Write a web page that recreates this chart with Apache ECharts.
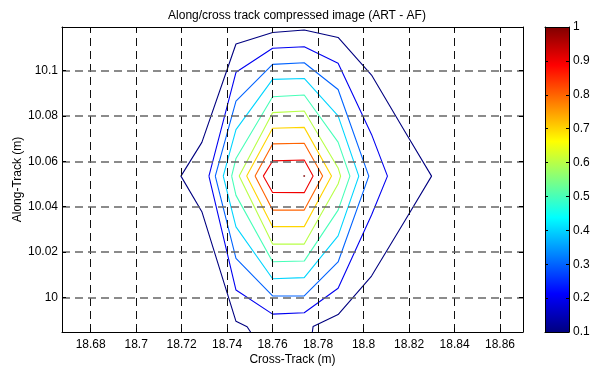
<!DOCTYPE html>
<html><head><meta charset="utf-8">
<script src="https://cdn.jsdelivr.net/npm/echarts@6/dist/echarts.min.js"></script>
<style>html,body{margin:0;padding:0;background:#fff}#c{width:591px;height:369px}</style>
</head><body><div id="c"></div>
<script>
// ---- data ----
const titleText = 'Along/cross track compressed image (ART - AF)';
const xName = 'Cross-Track (m)';
const yName = 'Along-Track (m)';
const xTicks = [18.68, 18.70, 18.72, 18.74, 18.76, 18.78, 18.80, 18.82, 18.84, 18.86];
const yTicks = [10.00, 10.02, 10.04, 10.06, 10.08, 10.10];
const xRange = [18.6674, 18.8701];
const yRange = [9.9847, 10.1193];
const cbRange = [0.1, 1.0];
const cbTicks = [0.1, 0.2, 0.3, 0.4, 0.5, 0.6, 0.7, 0.8, 0.9, 1.0];
const levels = [0.1, 0.2, 0.3, 0.4, 0.5, 0.6, 0.7, 0.8, 0.9];
const peakPoint = [18.7739, 10.0535]; // level 1.0 (single point)

const contour01 = [[18.7526,9.9812],[18.7488,9.9870],[18.7439,9.9894],[18.7289,10.0378],[18.7197,10.0535],[18.7289,10.0684],[18.7439,10.1118],[18.7600,10.1169],[18.7739,10.1180],[18.7888,10.1147],[18.8035,10.0981],[18.8181,10.0733],[18.8299,10.0535],[18.8181,10.0337],[18.8035,10.0094],[18.7888,9.9924],[18.7778,9.9871],[18.7770,9.9812]];
const contour02 = [[18.7320,10.0535],[18.7439,10.0993],[18.7600,10.1099],[18.7739,10.1106],[18.7888,10.1033],[18.8035,10.0719],[18.8105,10.0535],[18.8035,10.0363],[18.7888,10.0040],[18.7739,9.9932],[18.7600,9.9926],[18.7439,10.0032],[18.7320,10.0535]];
const contour03 = [[18.7348,10.0535],[18.7439,10.0866],[18.7600,10.1028],[18.7739,10.1035],[18.7888,10.0917],[18.8023,10.0535],[18.7888,10.0156],[18.7739,10.0006],[18.7600,10.0006],[18.7439,10.0172],[18.7348,10.0535]];
const contour04 = [[18.7383,10.0535],[18.7439,10.0740],[18.7600,10.0962],[18.7739,10.0966],[18.7888,10.0801],[18.7979,10.0535],[18.7888,10.0271],[18.7739,10.0087],[18.7600,10.0082],[18.7439,10.0311],[18.7383,10.0535]];
const contour05 = [[18.7420,10.0535],[18.7439,10.0613],[18.7600,10.0885],[18.7739,10.0893],[18.7888,10.0685],[18.7940,10.0535],[18.7888,10.0385],[18.7739,10.0160],[18.7600,10.0157],[18.7439,10.0450],[18.7420,10.0535]];
const contour06 = [[18.7453,10.0535],[18.7600,10.0815],[18.7739,10.0822],[18.7888,10.0571],[18.7899,10.0535],[18.7888,10.0500],[18.7739,10.0235],[18.7600,10.0235],[18.7453,10.0535]];
const contour07 = [[18.7486,10.0535],[18.7600,10.0746],[18.7739,10.0750],[18.7859,10.0535],[18.7739,10.0312],[18.7600,10.0312],[18.7486,10.0535]];
const contour08 = [[18.7523,10.0535],[18.7600,10.0677],[18.7739,10.0680],[18.7820,10.0535],[18.7739,10.0385],[18.7600,10.0385],[18.7523,10.0535]];
const contour09 = [[18.7559,10.0535],[18.7600,10.0602],[18.7739,10.0606],[18.7778,10.0535],[18.7739,10.0462],[18.7600,10.0463],[18.7559,10.0535]];
const contours = [contour01, contour02, contour03, contour04, contour05, contour06, contour07, contour08, contour09];

// ---- jet colormap ----
function clamp(v){ return Math.max(0, Math.min(1, v)); }
function jet(t){
  const r = clamp(1.5 - Math.abs(4*t - 3));
  const g = clamp(1.5 - Math.abs(4*t - 2));
  const b = clamp(1.5 - Math.abs(4*t - 1));
  return 'rgb(' + Math.round(r*255) + ',' + Math.round(g*255) + ',' + Math.round(b*255) + ')';
}
function levelColor(v){ return jet((v - cbRange[0]) / (cbRange[1] - cbRange[0])); }
const jetStops = [];
for (let k = 0; k <= 8; k++) jetStops.push({offset: k/8, color: jet(k/8)});

const FONT = 'Liberation Sans';
const fmt2 = v => String(+(+v).toFixed(2));
const fmt1 = v => String(+(+v).toFixed(1));

const series = [];
// dashed grid (vertical)
series.push({
  type: 'line', xAxisIndex: 0, yAxisIndex: 0, data: [], z: 1, silent: true,
  markLine: {
    silent: true, symbol: ['none', 'none'], animation: false,
    label: {show: false},
    lineStyle: {color: '#111', width: 1, type: [8, 5]},
    emphasis: {disabled: true},
    data: xTicks.map(v => ({xAxis: v}))
  }
});
// dashed grid (horizontal)
series.push({
  type: 'line', xAxisIndex: 0, yAxisIndex: 0, data: [], z: 1, silent: true,
  markLine: {
    silent: true, symbol: ['none', 'none'], animation: false,
    label: {show: false},
    lineStyle: {color: '#666', width: 1.6, type: [8, 5]},
    emphasis: {disabled: true},
    data: yTicks.map(v => ({yAxis: v}))
  }
});
contours.forEach((c, i) => {
  series.push({
    type: 'line', xAxisIndex: 0, yAxisIndex: 0, data: c, showSymbol: false, symbol: 'none',
    clip: true, z: 3, silent: true, animation: false,
    lineStyle: {color: levelColor(levels[i]), width: 1.1}
  });
});
series.push({
  type: 'scatter', xAxisIndex: 0, yAxisIndex: 0, data: [peakPoint], symbolSize: 2, z: 4, silent: true,
  itemStyle: {color: levelColor(1.0)}
});
// colorbar
series.push({
  type: 'custom', xAxisIndex: 2, yAxisIndex: 2, data: [[0, cbRange[1]]], z: 1, silent: true,
  renderItem: function(params, api){
    const top = api.coord([0, cbRange[1]]);
    const bot = api.coord([0, cbRange[0]]);
    const w = api.size([1, 0])[0];
    return {type: 'rect', shape: {x: top[0] - w/2, y: top[1], width: w, height: bot[1] - top[1]},
      style: {fill: new echarts.graphic.LinearGradient(0, 1, 0, 0, jetStops)}};
  }
});

const axLine = {show: true, onZero: false, lineStyle: {color: '#000', width: 1}};
const labelStyle = {color: '#000', fontSize: 12, fontFamily: FONT};

const option = {
  animation: false,
  backgroundColor: '#fff',
  title: {text: titleText, left: 292, top: 5, textAlign: 'center',
    textStyle: {fontSize: 12, fontWeight: 'normal', color: '#000', fontFamily: FONT}},
  grid: [
    {left: 62, top: 27, width: 461, height: 305, outerBoundsMode: 'none', containLabel: false},
    {left: 545, top: 27, width: 24, height: 305, outerBoundsMode: 'none', containLabel: false}
  ],
  xAxis: [
    {type: 'value', gridIndex: 0, position: 'bottom', min: xRange[0], max: xRange[1], z: 5,
      name: xName, nameLocation: 'middle', nameGap: 22, nameMoveOverlap: false,
      nameTextStyle: labelStyle,
      axisLine: axLine, splitLine: {show: false},
      axisTick: {show: true, inside: true, length: 4, customValues: xTicks, lineStyle: {color: '#000'}},
      axisLabel: {show: true, margin: 7, customValues: xTicks, formatter: fmt2, ...labelStyle}},
    {type: 'value', gridIndex: 0, position: 'top', min: xRange[0], max: xRange[1], z: 5,
      axisLine: axLine, splitLine: {show: false},
      axisTick: {show: true, inside: true, length: 4, customValues: xTicks, lineStyle: {color: '#000'}},
      axisLabel: {show: false}},
    {type: 'category', gridIndex: 1, position: 'bottom', data: [''], z: 5,
      axisLine: axLine, axisTick: {show: false}, axisLabel: {show: false}, splitLine: {show: false}},
    {type: 'category', gridIndex: 1, position: 'top', data: [''], z: 5,
      axisLine: axLine, axisTick: {show: false}, axisLabel: {show: false}, splitLine: {show: false}}
  ],
  yAxis: [
    {type: 'value', gridIndex: 0, position: 'left', min: yRange[0], max: yRange[1], z: 5,
      name: yName, nameLocation: 'middle', nameGap: 38, nameMoveOverlap: false,
      nameTextStyle: labelStyle,
      axisLine: axLine, splitLine: {show: false},
      axisTick: {show: true, inside: true, length: 4, customValues: yTicks, lineStyle: {color: '#000'}},
      axisLabel: {show: true, margin: 4, customValues: yTicks, formatter: fmt2, ...labelStyle}},
    {type: 'value', gridIndex: 0, position: 'right', min: yRange[0], max: yRange[1], z: 5,
      axisLine: axLine, splitLine: {show: false},
      axisTick: {show: true, inside: true, length: 4, customValues: yTicks, lineStyle: {color: '#000'}},
      axisLabel: {show: false}},
    {type: 'value', gridIndex: 1, position: 'right', min: cbRange[0], max: cbRange[1], z: 5,
      axisLine: axLine, splitLine: {show: false},
      axisTick: {show: true, inside: true, length: 3, customValues: cbTicks, lineStyle: {color: '#000'}},
      axisLabel: {show: true, margin: 4, customValues: cbTicks, formatter: fmt1, ...labelStyle}},
    {type: 'value', gridIndex: 1, position: 'left', min: cbRange[0], max: cbRange[1], z: 5,
      axisLine: axLine, splitLine: {show: false},
      axisTick: {show: true, inside: true, length: 3, customValues: cbTicks, lineStyle: {color: '#000'}},
      axisLabel: {show: false}}
  ],
  series: series
};
const chart = echarts.init(document.getElementById('c'), null, {renderer: 'canvas'});
chart.setOption(option);
</script>
</body></html>
